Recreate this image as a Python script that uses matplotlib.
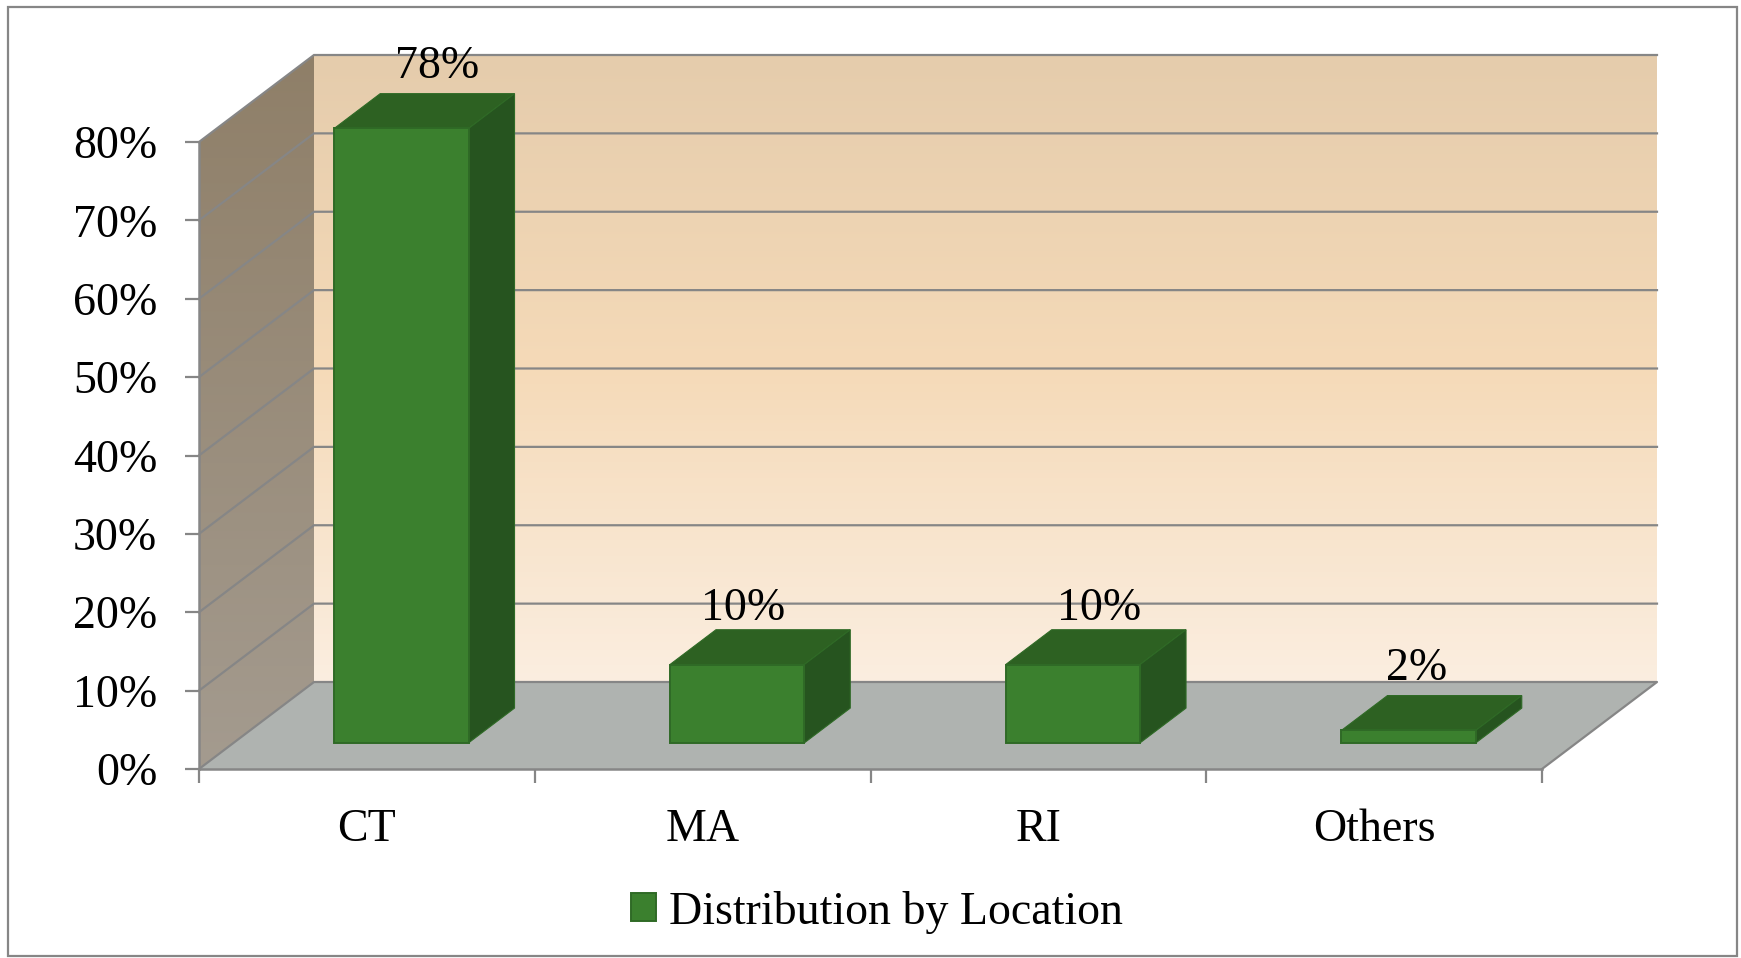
import numpy as np
import matplotlib
matplotlib.use('Agg')
import matplotlib.pyplot as plt
from matplotlib.colors import LinearSegmentedColormap
from matplotlib.patches import Patch, Polygon, Rectangle

# data
categories = ['CT', 'MA', 'RI', 'Others']
values = [78.4, 10, 10, 1.6]
y_ticks = [0, 10, 20, 30, 40, 50, 60, 70, 80]
series_name = 'Distribution by Location'

# label nudges in pixels (x from front centre, y from front top)
label_dx = [36, 6, 26, 8]
label_dy = [50, 45, 45, 50]

W, H = 1741, 958
GREY = '#868686'
FRONT = '#3b802e'
TOP = '#2d6122'
SIDE = '#26541f'
EDGE = '#2f6a26'
FLOOR = '#afb3b0'

plt.rcParams['font.family'] = ['Liberation Serif', 'DejaVu Serif']
plt.rcParams['font.size'] = 33

fig = plt.figure(figsize=(W / 100, H / 100), dpi=100, facecolor='white')

# outer frame
fig.add_artist(Rectangle((8 / W, 1 - 956 / H), 1729 / W, 949 / H, transform=fig.transFigure,
                         fill=False, edgecolor=GREY, linewidth=1.6))

# axes = front plane of the 3d box
left, right, bottom, top = 199, 1542, 769, 142
ax = fig.add_axes([left / W, 1 - bottom / H, (right - left) / W, (bottom - top) / H])
ax.set_facecolor('none')

x0, x1 = -0.5, 3.5
y0, y1 = 0, 80
depth_x = 115 / ((right - left) / 4)
depth_y = 87 / ((bottom - top) / 80)

# back wall
back_cmap = LinearSegmentedColormap.from_list('back', ['#e5ccac', '#f5dab8', '#fbeee0'])
grad = np.linspace(0, 1, 256).reshape(-1, 1)
im = ax.imshow(grad, cmap=back_cmap, aspect='auto', zorder=0,
               extent=(x0 + depth_x, x1 + depth_x, y0 + depth_y, y1 + depth_y))
im.set_clip_on(False)

# side wall, image has to be cut to the slanted shape
side_cmap = LinearSegmentedColormap.from_list('side', ['#8f7f68', '#a49b8f'])
side_pts = [(x0, y0), (x0 + depth_x, y0 + depth_y), (x0 + depth_x, y1 + depth_y), (x0, y1)]
im2 = ax.imshow(grad, cmap=side_cmap, aspect='auto', zorder=0.5,
                extent=(x0, x0 + depth_x, y0, y1 + depth_y))
side_clip = Polygon(side_pts, transform=ax.transData)
im2.set_clip_box(fig.bbox)
im2.set_clip_path(side_clip)

# floor
ax.add_patch(Polygon([(x0, y0), (x1, y0), (x1 + depth_x, y0 + depth_y), (x0 + depth_x, y0 + depth_y)],
                     closed=True, facecolor=FLOOR, edgecolor='none', zorder=1, clip_on=False))

# gridlines, side wall then back wall
for v in y_ticks[1:]:
    ax.plot([x0, x0 + depth_x, x1 + depth_x], [v, v + depth_y, v + depth_y],
            color=GREY, lw=1.6, zorder=1.5, clip_on=False, solid_joinstyle='miter')

# floor edges
ax.plot([x0, x0 + depth_x, x1 + depth_x, x1], [y0, y0 + depth_y, y0 + depth_y, y0],
        color=GREY, lw=1.6, zorder=1.5, clip_on=False)

# bars: front face from ax.bar, top and side built from same values
xs = np.arange(len(categories)) + 0.3 * depth_x
base = 0.3 * depth_y
w = 0.4
ddx = 0.4 * depth_x
ddy = 0.4 * depth_y

ax.bar(xs, values, width=w, bottom=base, color=FRONT, edgecolor=EDGE, linewidth=1.4,
       zorder=3, clip_on=False)

for x, v, c_dx, c_dy in zip(xs, values, label_dx, label_dy):
    l, r = x - w / 2, x + w / 2
    t = base + v
    ax.add_patch(Polygon([(l, t), (r, t), (r + ddx, t + ddy), (l + ddx, t + ddy)], closed=True,
                         facecolor=TOP, edgecolor=EDGE, linewidth=0.8, zorder=2.8, clip_on=False))
    ax.add_patch(Polygon([(r, base), (r + ddx, base + ddy), (r + ddx, t + ddy), (r, t)], closed=True,
                         facecolor=SIDE, edgecolor=EDGE, linewidth=0.8, zorder=2.9, clip_on=False))
    ax.annotate(f'{v:.0f}%', xy=(x, t), xytext=(c_dx, c_dy), textcoords='offset pixels',
                ha='center', va='baseline', color='black', fontsize=33, zorder=5,
                annotation_clip=False)

ax.set_xlim(x0, x1)
ax.set_ylim(y0, y1)

# axes and ticks
for s in ['top', 'right']:
    ax.spines[s].set_visible(False)
for s in ['left', 'bottom']:
    ax.spines[s].set_color(GREY)
    ax.spines[s].set_linewidth(1.8)

ax.set_yticks(y_ticks)
ax.set_yticklabels([f'{v}%' for v in y_ticks])
ax.tick_params(axis='y', length=10, width=1.6, color=GREY, pad=20, labelsize=33)

ax.set_xticks(np.arange(x0, x1 + 0.5, 1))
ax.set_xticklabels([])
ax.tick_params(axis='x', which='major', length=10, width=1.6, color=GREY)
ax.set_xticks(np.arange(len(categories)), minor=True)
ax.set_xticklabels(categories, minor=True)
ax.tick_params(axis='x', which='minor', length=0, pad=28.5, labelsize=33)

# legend
handle = Patch(facecolor=FRONT, edgecolor=EDGE, linewidth=1.4, label=series_name)
fig.legend(handles=[handle], loc='center', bbox_to_anchor=(877 / W, 1 - 912 / H), frameon=False,
           fontsize=33, handlelength=0.55, handleheight=0.55, handletextpad=0.28, borderpad=0)

fig.savefig('out.png', dpi=100)
